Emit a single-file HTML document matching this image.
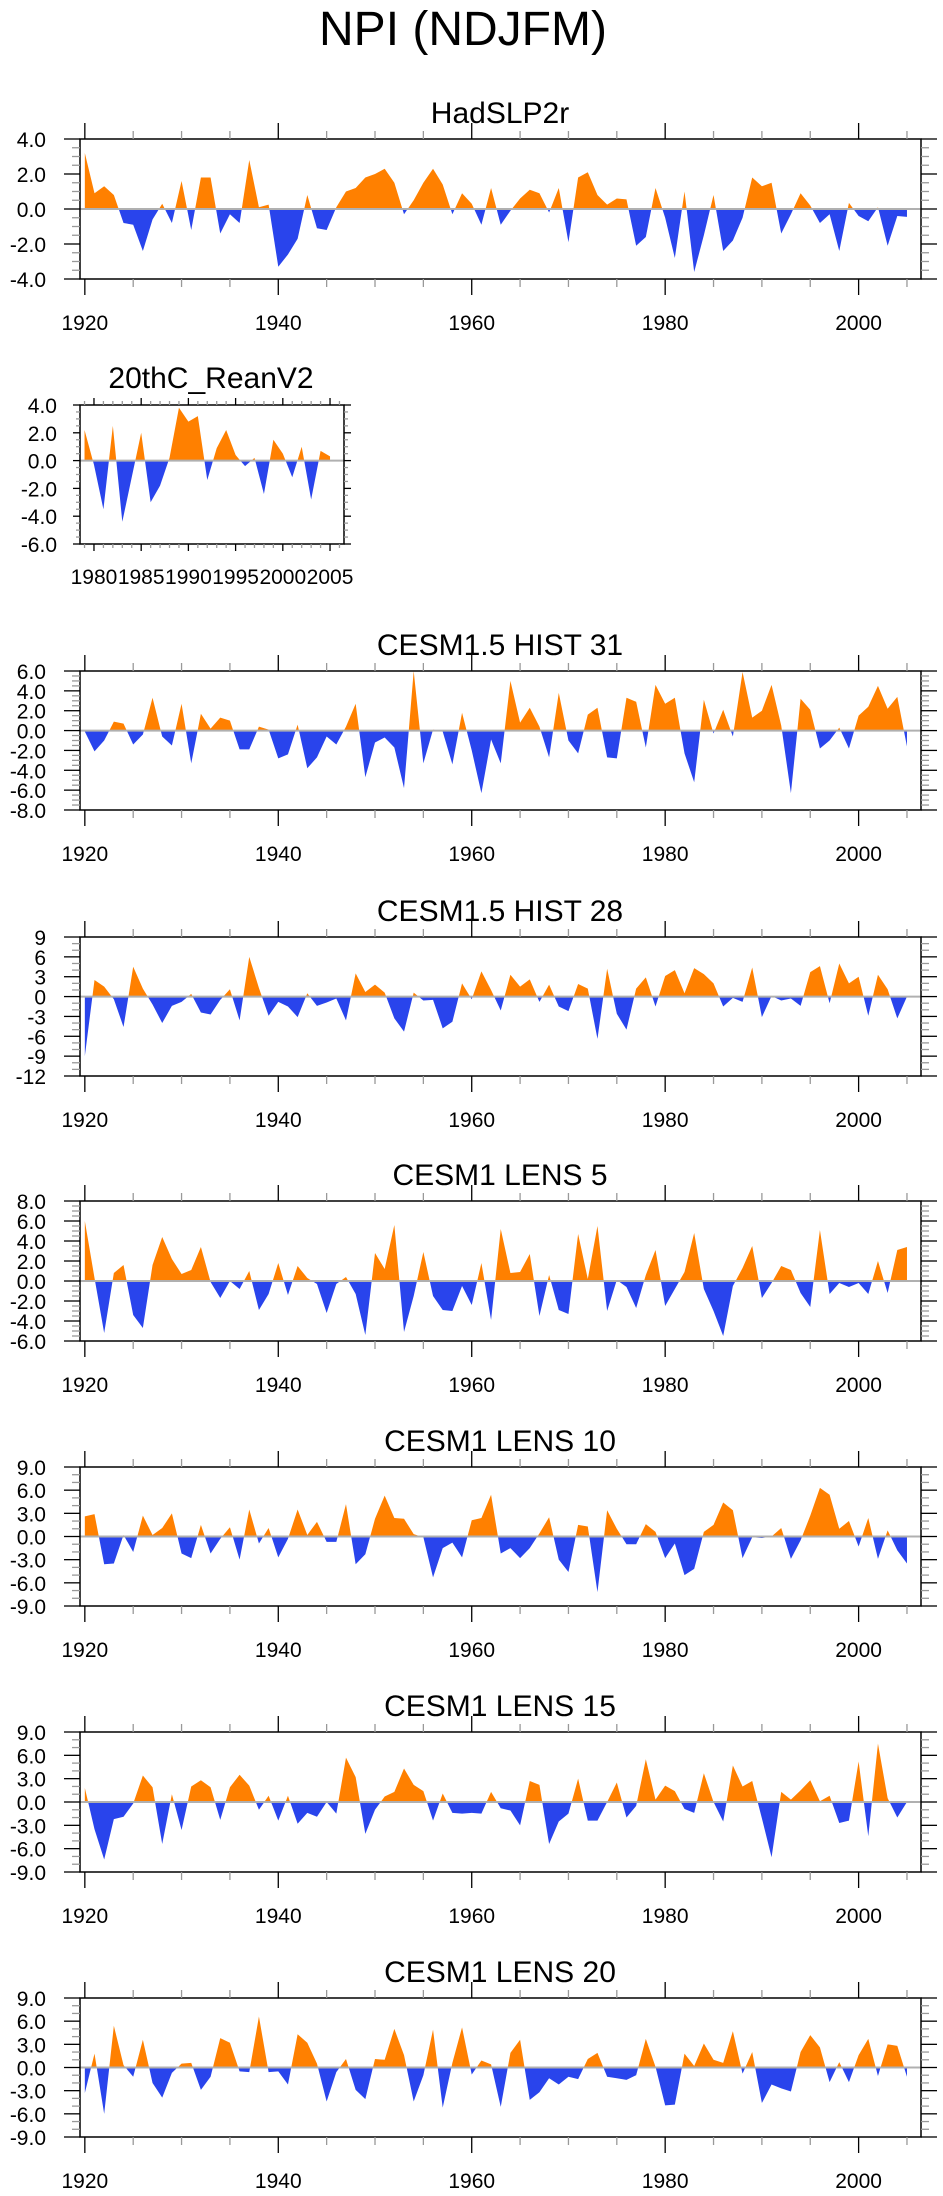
<!DOCTYPE html>
<html><head><meta charset="utf-8">
<style>
html,body{margin:0;padding:0;background:#fff;}
svg{display:block;font-family:"Liberation Sans",sans-serif;}
</style></head>
<body>
<svg id="fig" width="943" height="2196" viewBox="0 0 943 2196" xmlns="http://www.w3.org/2000/svg">
<text x="463" y="45" font-size="48" text-anchor="middle" fill="#000">NPI (NDJFM)</text>
</svg>
<script>
const yearsStart = 1920;
const reanStart = 1979;
const hadslp = [3.2,0.9,1.3,0.8,-0.8,-0.9,-2.4,-0.6,0.3,-0.8,1.6,-1.2,1.8,1.8,-1.4,-0.3,-0.8,2.8,0.1,0.25,-3.3,-2.6,-1.7,0.8,-1.1,-1.2,0.1,1.0,1.2,1.8,2.0,2.3,1.5,-0.3,0.5,1.5,2.3,1.4,-0.3,0.9,0.3,-0.9,1.2,-0.9,-0.1,0.6,1.1,0.9,-0.2,1.2,-1.9,1.8,2.1,0.8,0.25,0.6,0.55,-2.1,-1.6,1.2,-0.5,-2.8,1.0,-3.6,-1.5,0.8,-2.4,-1.8,-0.5,1.8,1.3,1.5,-1.4,-0.3,0.9,0.2,-0.8,-0.3,-2.4,0.35,-0.4,-0.7,0.1,-2.1,-0.4,-0.45];
const rean = [2.2,-0.3,-3.5,2.5,-4.4,-1.2,2.0,-3.0,-1.8,0.2,3.8,2.8,3.2,-1.4,0.9,2.2,0.4,-0.4,0.2,-2.4,1.5,0.5,-1.2,1.0,-2.8,0.7,0.3];
const hist31 = [-0.1,-2.1,-1.0,0.9,0.7,-1.4,-0.4,3.3,-0.6,-1.5,2.7,-3.3,1.7,0.2,1.3,1.0,-1.9,-1.9,0.4,0.1,-2.8,-2.4,0.6,-3.8,-2.7,-0.6,-1.4,0.4,2.7,-4.7,-1.2,-0.7,-1.7,-5.8,6.0,-3.3,0.1,-0.1,-3.4,1.8,-2.0,-6.3,-0.9,-3.3,5.0,0.8,2.3,0.4,-2.7,3.8,-1.0,-2.3,1.6,2.3,-2.7,-2.8,3.3,2.9,-1.7,4.6,2.7,3.3,-2.3,-5.2,3.1,-0.3,2.1,-0.6,5.9,1.3,2.0,4.6,0.5,-6.3,3.2,2.1,-1.8,-1.0,0.3,-1.8,1.5,2.4,4.5,2.2,3.4,-1.6];
const hist28 = [-9.0,2.5,1.5,-0.4,-4.6,4.5,1.2,-1.2,-4.0,-1.4,-0.8,0.4,-2.4,-2.7,-0.5,1.1,-3.6,6.0,1.3,-2.9,-0.8,-1.5,-3.1,0.5,-1.4,-0.9,-0.3,-3.6,3.5,0.7,1.8,0.6,-3.3,-5.3,0.6,-0.6,-0.5,-4.8,-3.8,2.0,-0.4,3.8,1.0,-2.1,3.3,1.5,2.6,-0.8,1.8,-1.5,-2.2,1.9,1.2,-6.4,4.2,-2.6,-5.0,1.2,2.9,-1.5,3.1,4.0,0.5,4.3,3.4,2.0,-1.5,-0.2,-0.8,4.4,-3.1,0.1,-0.6,-0.3,-1.4,3.7,4.6,-1.0,5.0,2.0,3.0,-2.9,3.3,1.1,-3.3,0.0];
const lens5 = [6.0,0.3,-5.2,0.8,1.6,-3.4,-4.7,1.6,4.4,2.2,0.7,1.1,3.4,-0.1,-1.7,0.0,-0.8,1.0,-2.9,-1.3,1.8,-1.4,1.5,0.3,-0.3,-3.2,-0.3,0.4,-1.3,-5.4,2.8,1.2,5.6,-5.1,-1.5,2.9,-1.5,-2.9,-3.0,-0.5,-2.4,1.8,-3.9,5.2,0.8,0.9,2.7,-3.5,0.6,-2.9,-3.3,4.7,0.2,5.5,-3.0,0.1,-0.6,-2.7,0.6,3.1,-2.5,-0.8,0.9,4.8,-0.8,-3.0,-5.5,-0.5,1.3,3.5,-1.7,-0.2,1.5,1.1,-1.2,-2.6,5.1,-1.3,-0.2,-0.6,-0.2,-1.3,2.0,-1.2,3.1,3.4];
const lens10 = [2.6,2.9,-3.6,-3.5,0.2,-2.0,2.7,0.2,1.1,3.0,-2.2,-2.8,1.5,-2.2,-0.3,1.2,-3.0,3.5,-0.9,1.1,-2.7,-0.3,3.5,0.2,1.9,-0.7,-0.7,4.2,-3.6,-2.3,2.3,5.3,2.4,2.3,0.3,-0.1,-5.3,-1.5,-0.8,-2.7,2.1,2.4,5.4,-2.2,-1.5,-2.8,-1.5,0.4,2.5,-3.0,-4.6,1.5,1.3,-7.2,3.4,1.0,-1.0,-1.0,1.6,0.6,-2.8,-0.9,-5.0,-4.2,0.6,1.5,4.4,3.4,-2.8,-0.1,-0.2,0.0,1.1,-2.9,-0.5,2.7,6.3,5.4,1.0,2.0,-1.3,2.4,-2.9,0.8,-1.8,-3.5];
const lens15 = [1.8,-3.5,-7.4,-2.2,-1.9,-0.2,3.4,1.9,-5.4,1.0,-3.6,2.0,2.8,1.9,-2.3,1.9,3.5,2.1,-1.0,0.8,-2.4,0.8,-2.8,-1.4,-1.9,0.0,-1.5,5.7,3.2,-4.1,-1.0,0.7,1.3,4.3,2.2,1.4,-2.4,1.1,-1.4,-1.5,-1.4,-1.5,1.3,-0.8,-1.1,-3.0,2.7,2.2,-5.4,-2.5,-1.5,3.0,-2.4,-2.4,0.0,2.5,-2.0,-0.5,5.5,0.3,2.1,1.4,-0.9,-1.4,3.7,0.0,-2.5,4.7,2.0,2.7,-2.1,-7.1,1.3,0.3,1.5,2.8,0.1,0.8,-2.7,-2.4,5.2,-4.4,7.5,0.5,-2.0,0.0];
const lens20 = [-3.3,1.8,-6.0,5.4,0.3,-1.2,3.6,-2.0,-3.9,-0.7,0.5,0.6,-2.9,-1.2,3.8,3.2,-0.5,-0.6,6.6,-0.6,-0.5,-2.2,4.3,3.2,0.5,-4.4,-0.6,1.1,-2.9,-4.1,1.1,1.0,5.0,1.6,-4.4,-1.0,4.9,-5.2,0.6,5.2,-0.9,0.9,0.4,-5.1,1.9,3.6,-4.2,-3.2,-1.4,-2.2,-1.2,-1.5,1.1,1.9,-1.2,-1.4,-1.6,-1.0,3.7,0.1,-4.9,-4.8,1.8,0.2,3.1,1.0,0.6,4.7,-0.8,2.0,-4.6,-2.2,-2.7,-3.1,2.0,4.2,2.6,-1.9,0.7,-1.9,1.6,3.7,-1.1,3.0,2.8,-1.2];
const titles = ["HadSLP2r","20thC_ReanV2","CESM1.5 HIST 31","CESM1.5 HIST 28","CESM1 LENS 5","CESM1 LENS 10","CESM1 LENS 15","CESM1 LENS 20"];
const yTicks1 = [-4,-2,0,2,4];
const yTicks2 = [-6,-4,-2,0,2,4];
const yTicks3 = [-8,-6,-4,-2,0,2,4,6];
const yTicks4 = [-12,-9,-6,-3,0,3,6,9];
const yTicks5 = [-6,-4,-2,0,2,4,6,8];
const yTicks9 = [-9,-6,-3,0,3,6,9];
const xTicksFull = [1920,1940,1960,1980,2000];
const xTicksRean = [1980,1985,1990,1995,2000,2005];

const NS="http://www.w3.org/2000/svg";
const svg=document.getElementById('fig');
function mk(tag,attrs,parent){const e=document.createElementNS(NS,tag);for(const k in attrs)e.setAttribute(k,attrs[k]);(parent||svg).appendChild(e);return e;}

const panels=[
 {name:'hadslp2r',data:hadslp,start:yearsStart,top:139,bot:279,l:80,r:921,xmin:1919.5,xmax:2006.45,yt:yTicks1,ysub:4,dec:1,xt:xTicksFull,xminor:5,small:false},
 {name:'20thc-reanv2',data:rean,start:reanStart,top:405,bot:544,l:80,r:344,xmin:1978.52,xmax:2006.48,yt:yTicks2,ysub:4,dec:1,xt:xTicksRean,xminor:1,small:true},
 {name:'cesm15-hist31',data:hist31,start:yearsStart,top:671,bot:810,l:80,r:921,xmin:1919.5,xmax:2006.45,yt:yTicks3,ysub:4,dec:1,xt:xTicksFull,xminor:5,small:false},
 {name:'cesm15-hist28',data:hist28,start:yearsStart,top:937,bot:1076,l:80,r:921,xmin:1919.5,xmax:2006.45,yt:yTicks4,ysub:3,dec:0,xt:xTicksFull,xminor:5,small:false},
 {name:'cesm1-lens5',data:lens5,start:yearsStart,top:1201,bot:1341,l:80,r:921,xmin:1919.5,xmax:2006.45,yt:yTicks5,ysub:4,dec:1,xt:xTicksFull,xminor:5,small:false},
 {name:'cesm1-lens10',data:lens10,start:yearsStart,top:1467,bot:1606,l:80,r:921,xmin:1919.5,xmax:2006.45,yt:yTicks9,ysub:3,dec:1,xt:xTicksFull,xminor:5,small:false},
 {name:'cesm1-lens15',data:lens15,start:yearsStart,top:1732,bot:1872,l:80,r:921,xmin:1919.5,xmax:2006.45,yt:yTicks9,ysub:3,dec:1,xt:xTicksFull,xminor:5,small:false},
 {name:'cesm1-lens20',data:lens20,start:yearsStart,top:1998,bot:2137,l:80,r:921,xmin:1919.5,xmax:2006.45,yt:yTicks9,ysub:3,dec:1,xt:xTicksFull,xminor:5,small:false}
];

panels.forEach((p,pi)=>{
 const g=mk('g',{});
 
 
 const ymin=p.yt[0], ymax=p.yt[p.yt.length-1];
 const X=v=>p.l+(v-p.xmin)/(p.xmax-p.xmin)*(p.r-p.l);
 const Y=v=>p.bot-(v-ymin)/(ymax-ymin)*(p.bot-p.top);
 const t=mk('text',{x:p.small?211:500,y:p.top-(p.small?17:16),'font-size':30,'text-anchor':'middle',fill:'#000'},g);
 t.textContent=titles[pi];
 
 
 // fill polygons
 const d=p.data; const pos=[],neg=[];
 let segP=[[X(p.start),Y(0)]], segN=[[X(p.start),Y(0)]];
 for(let i=0;i<d.length;i++){
  const x=X(p.start+i);
  if(i>0){const a=d[i-1],b=d[i];
   if((a>0&&b<0)||(a<0&&b>0)){const f=a/(a-b);const xc=X(p.start+i-1+f);segP.push([xc,Y(0)]);segN.push([xc,Y(0)]);}}
  segP.push([x,Y(Math.max(d[i],0))]);segN.push([x,Y(Math.min(d[i],0))]);
 }
 segP.push([X(p.start+d.length-1),Y(0)]);segN.push([X(p.start+d.length-1),Y(0)]);
 const ap=mk('polygon',{points:segP.map(q=>q.join(',')).join(' '),fill:'#ff8000'},g);
 
 
 const an=mk('polygon',{points:segN.map(q=>q.join(',')).join(' '),fill:'#2944ec'},g);
 
 
 const zl=mk('line',{x1:p.l,x2:p.r,y1:Y(0),y2:Y(0),stroke:'#b0b0b0','stroke-width':2},g);
 
 
 const fr=mk('rect',{x:p.l,y:p.top,width:p.r-p.l,height:p.bot-p.top,fill:'none',stroke:'#000','stroke-width':1.5},g);
 
 
 const maj=p.small?7:16, mnr=p.small?4:8;
 // x ticks
 for(let yr=Math.ceil(p.xmin);yr<=p.xmax;yr++){
  if((yr-(p.small?1980:1920))%p.xminor!==0)continue;
  const isMaj=p.xt.indexOf(yr)>=0; const L=isMaj?maj:mnr; const x=X(yr);
  const c=isMaj?'#000':'#999';
  mk('line',{x1:x,x2:x,y1:p.top,y2:p.top-L,stroke:c,'stroke-width':1.3},g);
  mk('line',{x1:x,x2:x,y1:p.bot,y2:p.bot+L,stroke:c,'stroke-width':1.3},g);
 }
 p.xt.forEach(v=>{const tx=mk('text',{x:X(v),y:p.bot+(p.small?40:51),'font-size':21,'text-anchor':'middle',fill:'#000'},g);tx.textContent=String(v);
  
  });
 // y ticks
 const step=p.yt[1]-p.yt[0];
 for(let k=0;k<=(p.yt.length-1)*p.ysub;k++){
  const v=ymin+k*step/p.ysub; const isMaj=k%p.ysub===0; const L=isMaj?maj:mnr; const y=Y(v);
  const c=isMaj?'#000':'#999';
  mk('line',{x1:p.l,x2:p.l-L,y1:y,y2:y,stroke:c,'stroke-width':1.3},g);
  mk('line',{x1:p.r,x2:p.r+L,y1:y,y2:y,stroke:c,'stroke-width':1.3},g);
 }
 p.yt.forEach(v=>{const ty=mk('text',{x:p.small?57:46,y:Y(v)+8,'font-size':21,'text-anchor':'end',fill:'#000'},g);ty.textContent=v.toFixed(p.dec);
  
  });
});
</script>
</body></html>
